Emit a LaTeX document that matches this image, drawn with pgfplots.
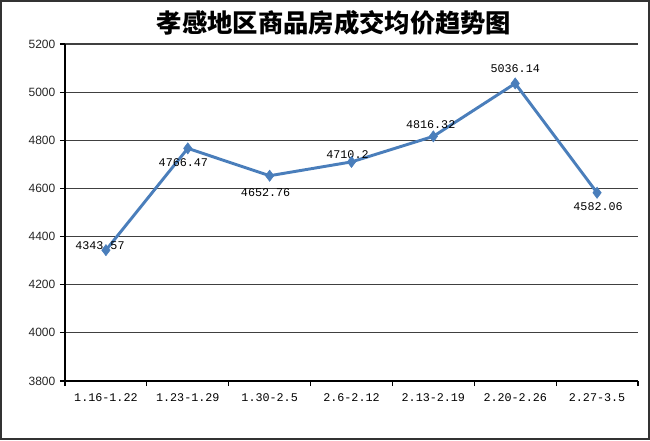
\documentclass[border=0pt]{standalone}
\usepackage{pgfplots}
\pgfplotsset{compat=1.18}
\usepackage{fontspec}
\setmainfont{Liberation Sans}
\newfontfamily\cjk{Noto Sans CJK SC}
\newfontfamily\lmono{Liberation Mono}
\definecolor{serieblue}{HTML}{4A7EBB}
\begin{document}
\begin{tikzpicture}
\path[use as bounding box] (-48.75pt,-44.25pt) rectangle (438.75pt,285.75pt);
\begin{axis}[
    scale only axis,
    width=429.75pt, height=252.75pt,
    xmin=-0.5, xmax=6.5,
    ymin=3800, ymax=5200,
    clip=false,
    axis x line*=bottom, axis y line*=left,
    axis line style={black, line width=0.9pt},
    ytick={3800,4000,...,5200},
    ymajorgrids,
    grid style={black!75, line width=0.9pt},
    xtick={-0.5,0.5,...,6.5},
    x tick label as interval,
    xticklabels={1.16-1.22,1.23-1.29,1.30-2.5,2.6-2.12,2.13-2.19,2.20-2.26,2.27-3.5},
    tick align=outside,
    major tick length=3.75pt,
    tick style={black, line width=0.8pt},
    /pgf/number format/assume math mode=true,
    /pgf/number format/1000 sep={},
    yticklabel style={font=\fontsize{9}{10}\selectfont, text=black!85},
    xticklabel style={font=\lmono\fontsize{8.8}{10}\selectfont, yshift=-2pt},
]
\addplot[serieblue, line width=2.2pt, mark=diamond*, mark size=4.2pt,
    mark options={fill=serieblue, draw=serieblue, line width=0.4pt}] coordinates {
    (0,4343.57) (1,4766.47) (2,4652.76) (3,4710.2) (4,4816.32) (5,5036.14) (6,4582.06)
};
\node[font=\lmono\fontsize{8.8}{10}\selectfont, xshift=-4.5pt, yshift=3.5pt] at (axis cs:0,4343.57) {4343.57};
\node[font=\lmono\fontsize{8.8}{10}\selectfont, xshift=-3.3pt, yshift=-10.5pt] at (axis cs:1,4766.47) {4766.47};
\node[font=\lmono\fontsize{8.8}{10}\selectfont, xshift=-3pt, yshift=-12.75pt] at (axis cs:2,4652.76) {4652.76};
\node[font=\lmono\fontsize{8.8}{10}\selectfont, xshift=-3pt, yshift=5.25pt] at (axis cs:3,4710.2) {4710.2};
\node[font=\lmono\fontsize{8.8}{10}\selectfont, xshift=-2pt, yshift=8.75pt] at (axis cs:4,4816.32) {4816.32};
\node[font=\lmono\fontsize{8.8}{10}\selectfont, yshift=11.25pt] at (axis cs:5,5036.14) {5036.14};
\node[font=\lmono\fontsize{8.8}{10}\selectfont, xshift=0.75pt, yshift=-10.5pt] at (axis cs:6,4582.06) {4582.06};
\end{axis}
\node[font=\cjk\bfseries\fontsize{19}{22}\selectfont] at (201.75pt,268.5pt) {孝感地区商品房成交均价趋势图};
\draw[black!80, line width=1.2pt] (-48.15pt,-43.65pt) rectangle (438.15pt,285.15pt);
\end{tikzpicture}
\end{document}
